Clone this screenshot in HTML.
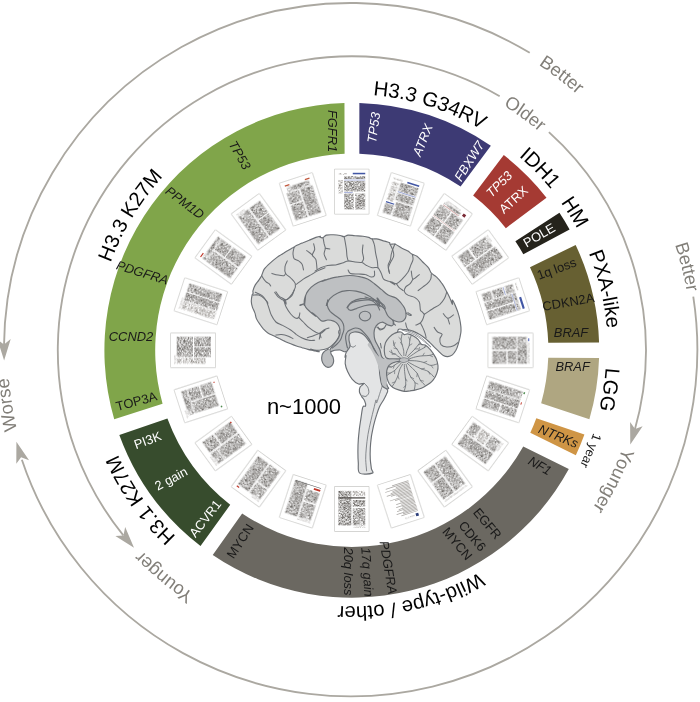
<!DOCTYPE html>
<html lang="en"><head><meta charset="utf-8"><title>Figure</title>
<style>
html,body{margin:0;padding:0;background:#fff;}
body{width:700px;height:702px;overflow:hidden;}
svg{display:block;font-family:"Liberation Sans",Arial,sans-serif;}
.g{font-size:12.9px;}
.i{font-style:italic;}
.w{fill:#fff;}
.d{fill:#1a1a1a;}
.big{font-size:20.3px;fill:#000;}
.gr{font-size:18.4px;fill:#827f79;}
</style></head><body>
<svg width="700" height="702" viewBox="0 0 700 702">
<rect width="700" height="702" fill="#fff"/>

<g id="arcs">
<path d="M3.96 346.67A346.7 346.7 0 0 1 529.73 52.83" fill="none" stroke="#aba8a1" stroke-width="1.85"/>
<path d="M4.12 360.59L-2.49 339.5L3.99 344.4L10.7 339.09Z" fill="#aba8a1"/>
<path d="M693.27 296.66A346.7 346.7 0 0 1 21.87 459.71" fill="none" stroke="#aba8a1" stroke-width="1.85"/>
<path d="M16.4 441.77L29.04 460.36L21.06 457.27L16.32 463.87Z" fill="#aba8a1"/>
<path d="M123.32 535.32A294 294 0 0 1 499.69 96.2" fill="none" stroke="#aba8a1" stroke-width="1.85"/>
<path d="M134 547.79L115.39 535.94L123.47 535.5L125.17 527.07Z" fill="#aba8a1"/>
<path d="M548.91 132.16A294 294 0 0 1 634.41 431.34" fill="none" stroke="#aba8a1" stroke-width="1.85"/>
<path d="M630.28 444.56L630.12 422.04L635.05 429.09L642.62 426.27Z" fill="#aba8a1"/>
</g>
<g id="segments">
<path d="M359.36 103.02A247.4 247.4 0 0 1 490.86 145.68L460.6 186.55A196.6 196.6 0 0 0 359.35 153.84Z" fill="#3d3a74"/>
<path d="M503.77 155.08A247.4 247.4 0 0 1 546.49 197.65L505.87 228.18A196.6 196.6 0 0 0 473.11 195.59Z" fill="#a53a33"/>
<path d="M559.44 212.87A249 249 0 0 1 569.58 229.58L523.33 254.24A196.6 196.6 0 0 0 515.36 241.22Z" fill="#25231b"/>
<path d="M575.65 244.96A247.4 247.4 0 0 1 599.08 342.53L548.26 342.75A196.6 196.6 0 0 0 529.98 267.21Z" fill="#676032"/>
<path d="M599.08 358.07A247.4 247.4 0 0 1 589.38 419.32L541.16 403.17A196.6 196.6 0 0 0 548.26 357.85Z" fill="#afa681"/>
<path d="M584.43 434.51A247.4 247.4 0 0 1 575.84 455.25L530.27 432.76A196.6 196.6 0 0 0 536.31 418.19Z" fill="#cf9545"/>
<path d="M568.81 469.11A247.4 247.4 0 0 1 212.74 554.92L242.15 513.48A196.6 196.6 0 0 0 523.25 446.51Z" fill="#6b6861"/>
<path d="M200.51 546.05A247.4 247.4 0 0 1 119.32 434.92L167.41 418.51A196.6 196.6 0 0 0 230.22 504.8Z" fill="#374c2d"/>
<path d="M114.22 419.32A247.4 247.4 0 0 1 344.46 103.01L344.6 153.83A196.6 196.6 0 0 0 162.58 403.67Z" fill="#80a54a"/>
</g>
<defs>
<pattern id="tx" width="4" height="1.4" patternUnits="userSpaceOnUse"><rect width="4" height="1.4" fill="#d2cfcc"/><rect width="4" height="0.9" fill="#85807c"/></pattern>
<pattern id="tl" width="4" height="1.4" patternUnits="userSpaceOnUse"><rect width="4" height="1.4" fill="#eeedeb"/><rect width="4" height="0.8" fill="#b9b6b3"/></pattern>
<filter id="nz" x="0" y="0" width="100%" height="100%" color-interpolation-filters="sRGB"><feTurbulence type="fractalNoise" baseFrequency="0.55 1.5" numOctaves="2" seed="3"/><feGaussianBlur stdDeviation="0.4"/><feColorMatrix type="matrix" values="0 0 0 0 0.34  0 0 0 0 0.325  0 0 0 0 0.31  1.5 0 0 0 -0.3"/><feComposite in2="SourceGraphic" operator="in"/></filter>
<filter id="nl" x="0" y="0" width="100%" height="100%" color-interpolation-filters="sRGB"><feTurbulence type="fractalNoise" baseFrequency="0.55 1.5" numOctaves="2" seed="8"/><feGaussianBlur stdDeviation="0.4"/><feColorMatrix type="matrix" values="0 0 0 0 0.5  0 0 0 0 0.48  0 0 0 0 0.46  2 0 0 0 -0.68"/><feComposite in2="SourceGraphic" operator="in"/></filter>
<filter id="sh" x="-20%" y="-20%" width="140%" height="140%"><feGaussianBlur stdDeviation="0.75"/></filter>
</defs>
<g id="thumbs">
<g transform="translate(351.8 191.5) rotate(0)"><rect x="-17.6" y="-22.8" width="35.2" height="45.8" rx="0.8" fill="#a9a9a5" opacity="0.6" filter="url(#sh)"/><rect x="-16.9" y="-22.1" width="33.8" height="44.4" fill="#fff"/><g transform="scale(0.96)"><g filter="url(#nz)"><rect x="-8" y="-16" width="22" height="3"/><rect x="-8" y="-11" width="22" height="11"/><rect x="-8" y="2.2" width="10" height="16.5"/><rect x="3.5" y="2.2" width="10.5" height="16.5"/></g><g filter="url(#nl)"><rect x="-14" y="-19" width="9" height="1.4"/><rect x="-14" y="-12" width="4.5" height="14"/></g><rect x="1" y="-19.5" width="13" height="1.6" fill="#4257a5"/><rect x="-8" y="-12.3" width="22" height="0.7" fill="#8f9bd0"/><rect x="-8" y="0.8" width="9" height="0.8" fill="#8f9bd0"/></g></g>
<g transform="translate(400.87 199.27) rotate(18)"><rect x="-17.6" y="-22.8" width="35.2" height="45.8" rx="0.8" fill="#a9a9a5" opacity="0.6" filter="url(#sh)"/><rect x="-16.9" y="-22.1" width="33.8" height="44.4" fill="#fff"/><g transform="scale(0.96)"><g filter="url(#nz)"><rect x="-5.5" y="-16.5" width="19.5" height="9"/><rect x="-5.5" y="-5.5" width="19.5" height="8"/><rect x="-14" y="8.5" width="9" height="10.5"/><rect x="-3.5" y="4" width="17.5" height="15"/></g><g filter="url(#nl)"><rect x="-14" y="-19.3" width="10" height="1.4"/><rect x="-14" y="-15" width="7" height="20"/></g><rect x="1" y="-19.5" width="13" height="1.6" fill="#4257a5"/><rect x="-5.5" y="-7" width="19.5" height="0.7" fill="#8f9bd0"/><rect x="-14" y="6.5" width="9" height="1.2" fill="#4257a5"/></g></g>
<g transform="translate(445.14 221.83) rotate(36)"><rect x="-17.6" y="-22.8" width="35.2" height="45.8" rx="0.8" fill="#a9a9a5" opacity="0.6" filter="url(#sh)"/><rect x="-16.9" y="-22.1" width="33.8" height="44.4" fill="#fff"/><g transform="scale(0.96)"><g filter="url(#nz)"><rect x="-12" y="-17" width="20" height="3"/><rect x="-14" y="-12" width="13" height="13"/><rect x="0.5" y="-12" width="13.5" height="13"/><rect x="-14" y="3" width="13" height="16"/><rect x="0.5" y="3" width="13.5" height="16"/></g><g filter="url(#nl)"><rect x="-11" y="-19.5" width="17" height="1.2"/></g><rect x="10.5" y="-18.5" width="3.2" height="3.2" fill="#7a2a35"/><rect x="-12" y="-13.5" width="20" height="0.6" fill="#c9928f"/><rect x="-14" y="1.6" width="28" height="0.5" fill="#c9928f"/></g></g>
<g transform="translate(480.27 256.96) rotate(54)"><rect x="-17.6" y="-22.8" width="35.2" height="45.8" rx="0.8" fill="#a9a9a5" opacity="0.6" filter="url(#sh)"/><rect x="-16.9" y="-22.1" width="33.8" height="44.4" fill="#fff"/><g transform="scale(0.96)"><g filter="url(#nz)"><rect x="-14" y="-17" width="13" height="21"/><rect x="0.5" y="-19" width="13.5" height="38"/><rect x="-14" y="6" width="13" height="13"/></g><g filter="url(#nl)"><rect x="-14" y="-19.5" width="8" height="1.2"/></g></g></g>
<g transform="translate(502.83 301.23) rotate(72)"><rect x="-17.6" y="-22.8" width="35.2" height="45.8" rx="0.8" fill="#a9a9a5" opacity="0.6" filter="url(#sh)"/><rect x="-16.9" y="-22.1" width="33.8" height="44.4" fill="#fff"/><g transform="scale(0.96)"><g filter="url(#nz)"><rect x="-14" y="-15" width="8.5" height="9"/><rect x="-4.5" y="-15" width="18.5" height="3"/><rect x="-4.5" y="-10.5" width="8.5" height="29.5"/><rect x="5.2" y="-10.5" width="8.8" height="29.5"/><rect x="-14" y="-3.5" width="8.5" height="11"/><rect x="-14" y="9" width="8.5" height="10"/></g><g filter="url(#nl)"><rect x="-14" y="-19" width="8" height="1.2"/></g><rect x="1.5" y="-19.5" width="12.5" height="2.2" fill="#4257a5"/><rect x="-4.5" y="-11.5" width="18.5" height="0.6" fill="#8f9bd0"/><rect x="-14" y="-5" width="8.5" height="0.7" fill="#8f9bd0"/></g></g>
<g transform="translate(510.6 350.3) rotate(90)"><rect x="-17.6" y="-22.8" width="35.2" height="45.8" rx="0.8" fill="#a9a9a5" opacity="0.6" filter="url(#sh)"/><rect x="-16.9" y="-22.1" width="33.8" height="44.4" fill="#fff"/><g transform="scale(0.96)"><g filter="url(#nz)"><rect x="-14" y="-17" width="28" height="10"/><rect x="-14" y="-6" width="13.2" height="25"/><rect x="0.8" y="-6" width="13.2" height="9"/><rect x="0.8" y="4.5" width="13.2" height="14.5"/></g><g filter="url(#nl)"><rect x="-8" y="-19.5" width="22" height="1.2"/></g><rect x="-12.5" y="-19.5" width="3" height="1.3" fill="#6c7cc4"/></g></g>
<g transform="translate(502.83 399.37) rotate(108)"><rect x="-17.6" y="-22.8" width="35.2" height="45.8" rx="0.8" fill="#a9a9a5" opacity="0.6" filter="url(#sh)"/><rect x="-16.9" y="-22.1" width="33.8" height="44.4" fill="#fff"/><g transform="scale(0.96)"><g filter="url(#nz)"><rect x="-14" y="-17.5" width="8.5" height="36.5"/><rect x="-4.5" y="-17.5" width="8.8" height="36.5"/><rect x="5.3" y="-17.5" width="8.7" height="17"/><rect x="5.3" y="1" width="8.7" height="18"/></g><rect x="-14" y="-20" width="2" height="1.5" fill="#4d8a4d"/><rect x="-3" y="-20" width="2.5" height="1" fill="#c0392b"/></g></g>
<g transform="translate(480.27 443.64) rotate(126)"><rect x="-17.6" y="-22.8" width="35.2" height="45.8" rx="0.8" fill="#a9a9a5" opacity="0.6" filter="url(#sh)"/><rect x="-16.9" y="-22.1" width="33.8" height="44.4" fill="#fff"/><g transform="scale(0.96)"><g filter="url(#nz)"><rect x="-14" y="-17" width="13.2" height="12"/><rect x="0.8" y="-17" width="13.2" height="36"/><rect x="-14" y="9" width="13.2" height="10"/></g><g filter="url(#nl)"><rect x="-14" y="-19.5" width="10" height="1.2"/><rect x="-14" y="-3.5" width="13.2" height="11"/></g></g></g>
<g transform="translate(445.14 478.77) rotate(144)"><rect x="-17.6" y="-22.8" width="35.2" height="45.8" rx="0.8" fill="#a9a9a5" opacity="0.6" filter="url(#sh)"/><rect x="-16.9" y="-22.1" width="33.8" height="44.4" fill="#fff"/><g transform="scale(0.96)"><g filter="url(#nz)"><rect x="-14" y="-16.5" width="13.2" height="35.5"/><rect x="0.8" y="-16.5" width="13.2" height="20"/><rect x="0.8" y="5" width="13.2" height="14"/></g><g filter="url(#nl)"><rect x="-14" y="-19.5" width="28" height="1.2"/></g></g></g>
<g transform="translate(400.87 501.33) rotate(162)"><rect x="-17.6" y="-22.8" width="35.2" height="45.8" rx="0.8" fill="#a9a9a5" opacity="0.6" filter="url(#sh)"/><rect x="-16.9" y="-22.1" width="33.8" height="44.4" fill="#fff"/><g transform="scale(0.96)"><g filter="url(#nl)"><rect x="-9" y="-19" width="10" height="1.2"/></g><rect x="-13.5" y="-19.8" width="3" height="3" fill="#2c3e7a"/><rect x="-14" y="-15" width="18.21" height="0.8" fill="#6f6a66" opacity="0.6"/><rect x="-14" y="-13.58" width="15.96" height="0.8" fill="#6f6a66" opacity="0.6"/><rect x="-14" y="-12.16" width="22.46" height="0.8" fill="#6f6a66" opacity="0.6"/><rect x="-14" y="-10.74" width="14.94" height="0.8" fill="#6f6a66" opacity="0.6"/><rect x="-14" y="-9.32" width="20.97" height="0.8" fill="#6f6a66" opacity="0.6"/><rect x="-14" y="-7.9" width="18.75" height="0.8" fill="#6f6a66" opacity="0.6"/><rect x="-14" y="-6.48" width="14.75" height="0.8" fill="#6f6a66" opacity="0.6"/><rect x="-14" y="-5.06" width="20.6" height="0.8" fill="#6f6a66" opacity="0.6"/><rect x="-14" y="-3.64" width="14.49" height="0.8" fill="#6f6a66" opacity="0.6"/><rect x="-14" y="-2.22" width="19.64" height="0.8" fill="#6f6a66" opacity="0.6"/><rect x="-14" y="-0.8" width="14.91" height="0.8" fill="#6f6a66" opacity="0.6"/><rect x="-14" y="0.62" width="15.18" height="0.8" fill="#6f6a66" opacity="0.6"/><rect x="-14" y="2.04" width="19.52" height="0.8" fill="#6f6a66" opacity="0.6"/><rect x="-14" y="3.46" width="24.75" height="0.8" fill="#6f6a66" opacity="0.6"/><rect x="-14" y="4.88" width="15.61" height="0.8" fill="#6f6a66" opacity="0.6"/><rect x="-14" y="6.3" width="16.9" height="0.8" fill="#6f6a66" opacity="0.6"/><rect x="-14" y="7.72" width="22.16" height="0.8" fill="#6f6a66" opacity="0.6"/><rect x="-14" y="9.14" width="26.32" height="0.8" fill="#6f6a66" opacity="0.6"/><rect x="-14" y="10.56" width="21.5" height="0.8" fill="#6f6a66" opacity="0.6"/><rect x="-14" y="11.98" width="19.16" height="0.8" fill="#6f6a66" opacity="0.6"/><rect x="-14" y="13.4" width="26.69" height="0.8" fill="#6f6a66" opacity="0.6"/><rect x="-14" y="14.82" width="14.61" height="0.8" fill="#6f6a66" opacity="0.6"/><rect x="-14" y="16.24" width="25.16" height="0.8" fill="#6f6a66" opacity="0.6"/><rect x="-14" y="17.66" width="17.76" height="0.8" fill="#6f6a66" opacity="0.6"/></g></g>
<g transform="translate(351.8 509.1) rotate(180)"><rect x="-17.6" y="-22.8" width="35.2" height="45.8" rx="0.8" fill="#a9a9a5" opacity="0.6" filter="url(#sh)"/><rect x="-16.9" y="-22.1" width="33.8" height="44.4" fill="#fff"/><g transform="scale(0.96)"><g filter="url(#nz)"><rect x="-14" y="-17" width="13" height="18"/><rect x="0.5" y="-17" width="13.5" height="36"/><rect x="-14" y="2.5" width="13" height="7"/></g><g filter="url(#nl)"><rect x="-14" y="-19.5" width="12" height="1.2"/><rect x="-14" y="13.5" width="13" height="5.5"/></g><rect x="-14" y="11" width="28" height="1.3" fill="#4a4643"/></g></g>
<g transform="translate(302.73 501.33) rotate(198)"><rect x="-17.6" y="-22.8" width="35.2" height="45.8" rx="0.8" fill="#a9a9a5" opacity="0.6" filter="url(#sh)"/><rect x="-16.9" y="-22.1" width="33.8" height="44.4" fill="#fff"/><g transform="scale(0.96)"><g filter="url(#nz)"><rect x="-14" y="-17" width="13.2" height="17"/><rect x="0.8" y="-17" width="13.2" height="36"/><rect x="-14" y="1.5" width="13.2" height="12"/></g><g filter="url(#nl)"><rect x="-14" y="-19.5" width="14" height="1.2"/></g><rect x="-14" y="15" width="7" height="2" fill="#c0392b"/><rect x="-14" y="18.3" width="28" height="0.6" fill="#555"/></g></g>
<g transform="translate(258.46 478.77) rotate(216)"><rect x="-17.6" y="-22.8" width="35.2" height="45.8" rx="0.8" fill="#a9a9a5" opacity="0.6" filter="url(#sh)"/><rect x="-16.9" y="-22.1" width="33.8" height="44.4" fill="#fff"/><g transform="scale(0.96)"><g filter="url(#nz)"><rect x="-14" y="-17" width="13.2" height="13"/><rect x="0.8" y="-17" width="13.2" height="36"/><rect x="-14" y="-2.5" width="13.2" height="21.5"/></g><g filter="url(#nl)"><rect x="-14" y="-19.5" width="9" height="1.2"/></g><rect x="11" y="-19.8" width="3" height="1.3" fill="#c0392b"/></g></g>
<g transform="translate(223.33 443.64) rotate(234)"><rect x="-17.6" y="-22.8" width="35.2" height="45.8" rx="0.8" fill="#a9a9a5" opacity="0.6" filter="url(#sh)"/><rect x="-16.9" y="-22.1" width="33.8" height="44.4" fill="#fff"/><g transform="scale(0.96)"><g filter="url(#nz)"><rect x="-14" y="-17" width="13.2" height="8"/><rect x="-14" y="-8" width="13.2" height="27"/><rect x="0.8" y="-17" width="13.2" height="14"/><rect x="0.8" y="-1.5" width="13.2" height="20.5"/></g><g filter="url(#nl)"><rect x="-14" y="-19.5" width="11" height="1.2"/></g><rect x="12.5" y="18.5" width="1.5" height="1.5" fill="#c0392b"/></g></g>
<g transform="translate(200.77 399.37) rotate(252)"><rect x="-17.6" y="-22.8" width="35.2" height="45.8" rx="0.8" fill="#a9a9a5" opacity="0.6" filter="url(#sh)"/><rect x="-16.9" y="-22.1" width="33.8" height="44.4" fill="#fff"/><g transform="scale(0.96)"><g filter="url(#nz)"><rect x="-12" y="-17" width="26" height="6"/><rect x="-12" y="-10" width="12.2" height="26"/><rect x="1.5" y="-10" width="12.5" height="12"/><rect x="1.5" y="3.5" width="12.5" height="12.5"/></g><g filter="url(#nl)"><rect x="-14" y="-19.5" width="8" height="1.2"/></g><rect x="-14.5" y="17.5" width="1.5" height="1.5" fill="#4d8a4d"/><rect x="12" y="18" width="1.2" height="1.2" fill="#c0392b"/></g></g>
<g transform="translate(193 350.3) rotate(270)"><rect x="-17.6" y="-22.8" width="35.2" height="45.8" rx="0.8" fill="#a9a9a5" opacity="0.6" filter="url(#sh)"/><rect x="-16.9" y="-22.1" width="33.8" height="44.4" fill="#fff"/><g transform="scale(0.96)"><g filter="url(#nz)"><rect x="-7" y="-17" width="21" height="17"/><rect x="-7" y="1.2" width="10" height="17.5"/><rect x="4" y="1.2" width="10" height="17.5"/></g><g filter="url(#nl)"><rect x="-14" y="-19.5" width="9" height="1.2"/><rect x="-14" y="-17" width="6" height="30"/></g></g></g>
<g transform="translate(200.77 301.23) rotate(288)"><rect x="-17.6" y="-22.8" width="35.2" height="45.8" rx="0.8" fill="#a9a9a5" opacity="0.6" filter="url(#sh)"/><rect x="-16.9" y="-22.1" width="33.8" height="44.4" fill="#fff"/><g transform="scale(0.96)"><g filter="url(#nz)"><rect x="-4.5" y="-17" width="8.8" height="36"/><rect x="5.3" y="-17" width="8.7" height="36"/></g><g filter="url(#nl)"><rect x="-14" y="-19.5" width="12" height="1.2"/><rect x="-14" y="-17" width="8.5" height="36"/></g></g></g>
<g transform="translate(223.33 256.96) rotate(306)"><rect x="-17.6" y="-22.8" width="35.2" height="45.8" rx="0.8" fill="#a9a9a5" opacity="0.6" filter="url(#sh)"/><rect x="-16.9" y="-22.1" width="33.8" height="44.4" fill="#fff"/><g transform="scale(0.96)"><g filter="url(#nz)"><rect x="-14" y="-17" width="28" height="4"/><rect x="-14" y="-12" width="13.2" height="31"/><rect x="0.8" y="-12" width="13.2" height="13"/><rect x="0.8" y="2" width="13.2" height="17"/></g><rect x="-14" y="-19.8" width="5" height="1.2" fill="#c0392b"/></g></g>
<g transform="translate(258.46 221.83) rotate(324)"><rect x="-17.6" y="-22.8" width="35.2" height="45.8" rx="0.8" fill="#a9a9a5" opacity="0.6" filter="url(#sh)"/><rect x="-16.9" y="-22.1" width="33.8" height="44.4" fill="#fff"/><g transform="scale(0.96)"><g filter="url(#nz)"><rect x="-14" y="-17" width="13.2" height="36"/><rect x="0.8" y="-17" width="13.2" height="15"/><rect x="0.8" y="-1" width="13.2" height="20"/></g><g filter="url(#nl)"><rect x="-14" y="-19.5" width="10" height="1.2"/></g></g></g>
<g transform="translate(302.73 199.27) rotate(342)"><rect x="-17.6" y="-22.8" width="35.2" height="45.8" rx="0.8" fill="#a9a9a5" opacity="0.6" filter="url(#sh)"/><rect x="-16.9" y="-22.1" width="33.8" height="44.4" fill="#fff"/><g transform="scale(0.96)"><g filter="url(#nz)"><rect x="-12" y="-17" width="24" height="5"/><rect x="-14" y="-11" width="13.2" height="12"/><rect x="0.8" y="-11" width="13.2" height="30"/><rect x="-14" y="2" width="13.2" height="17"/></g><rect x="-13.5" y="-19.5" width="5" height="1.3" fill="#c0573b"/><rect x="8.5" y="-19.5" width="5" height="1.3" fill="#c0573b"/></g></g>
</g>
<g id="brain" stroke="#6c7075" stroke-width="1.15" stroke-linejoin="round" stroke-linecap="round" fill="none">
<path d="M252.1 295.1C252.4 293.8 253 294.3 253.1 293.5C253.3 292.8 252.6 292 253 290.6C253.4 289.1 254.3 286.6 255.3 284.9C256.2 283.1 257.7 281.7 258.7 280.3C259.7 278.9 260.8 277.3 261.3 276.3C261.9 275.3 261.6 275.6 262.1 274.3C262.7 273.1 263.1 270.7 264.4 268.9C265.8 267 268 265 270.1 263.1C272.2 261.2 274.7 259.1 277 257.4C279.3 255.7 281.6 254.3 283.9 252.9C286.1 251.4 289 249.8 290.7 248.9C292.5 247.9 293.5 247.7 294.4 247.1C295.2 246.6 294.6 246.4 295.9 245.8C297.2 245.1 300 244.1 302.1 243.1C304.3 242.2 306.7 241.2 309 240.3C311.3 239.3 314 238.1 315.9 237.4C317.8 236.8 319.8 236.4 320.4 236.3C321 236.2 319.2 236.6 319.6 236.9C320 237.1 321.6 238.1 322.8 237.8C323.9 237.5 324.7 235.6 326.4 235.1C328.2 234.6 331 234.7 333.3 234.8C335.6 234.9 338.4 235.2 340.1 235.5C341.9 235.8 342.6 236.7 343.9 236.6C345.2 236.6 346.3 235.3 348.1 235.1C350 235 352.5 235.5 355 235.7C357.5 235.9 360.7 236 363 236.3C365.3 236.6 367.2 237 368.7 237.4C370.2 237.9 370.6 238.7 371.9 238.9C373.2 239.2 374.8 238.6 376.7 238.9C378.7 239.2 381.5 240.2 383.6 240.9C385.7 241.5 388.3 242.3 389.3 242.6C390.3 242.9 389.4 242.3 389.6 242.6C389.8 242.8 389.4 243.9 390.4 244.2C391.3 244.5 393.3 243.6 395.3 244.3C397.2 245 400 247.1 402.1 248.3C404.2 249.4 406.2 250.2 407.9 251.1C409.5 252.1 410.7 253.4 412.2 254.2C413.7 255.1 415.2 255 417 256.3C418.8 257.6 420.8 260.1 422.7 262C424.6 263.9 427 265.8 428.4 267.7C429.9 269.6 430.1 271.7 431.4 273.2C432.7 274.7 434.6 275.1 436.4 276.9C438.2 278.6 440.4 281.2 442.1 283.7C443.9 286.2 445.4 289.2 446.7 291.7C448 294.2 449.2 296.5 450.1 298.6C451.1 300.7 452 304 452.4 304.3C452.8 304.5 451.9 299.6 452.4 300C453 300.4 454.8 304.4 455.9 306.9C456.9 309.3 458 312.2 458.7 314.9C459.5 317.5 460 320.2 460.4 322.9C460.8 325.5 461.1 328.4 461 330.9C460.9 333.3 460.3 335.4 459.9 337.7C459.4 340 458.8 342.5 458.1 344.6C457.5 346.7 456.8 348.6 455.9 350.3C454.9 352 453.8 353.8 452.4 354.9C451.1 355.9 449.4 356.5 447.9 356.6C446.3 356.7 444.8 356.3 443.3 355.4C441.8 354.6 440.2 352.9 438.7 351.4C437.2 350 435.7 348.4 434.1 346.9C432.6 345.3 431.1 343.7 429.6 342.3C428 340.9 426.7 339.6 425 338.3C423.3 337 421.2 335.4 419.3 334.3C417.4 333.1 415.5 332.2 413.6 331.4C411.7 330.7 409.6 330 407.9 329.7C406.1 329.4 404.9 329.4 403.3 329.5C401.6 329.5 399 327.9 398 330C397 332.1 398 338 397 342C396 346 394 351 392 354C390 357 387.3 360.3 385 360C382.7 359.7 379.5 354.7 378 352C376.5 349.3 376.8 346.7 376 344C375.2 341.3 373.5 338.7 373 336C372.5 333.3 371.8 330.7 373 328C374.2 325.3 378 322.5 380 320C382 317.5 388.9 312.5 385 313C381.1 313.5 364 320.1 356.4 322.9C348.9 325.6 342.7 327.6 339.9 329.7C337 331.8 339.8 333.7 339.3 335.4C338.8 337.1 338 338.6 337 340C336 341.4 334.7 342.9 333.6 344C332.4 345.1 331.1 346.2 330.1 346.9C329.2 347.6 329.2 347.8 327.9 348.2C326.5 348.7 324 349.4 322.1 349.7C320.2 350.1 318.3 350.4 316.4 350.3C314.5 350.2 310.2 348.9 310.7 349.1C311.2 349.4 318.8 351.5 319.3 351.7C319.8 352 315.5 351 313.6 350.6C311.7 350.2 309.8 349.9 307.9 349.4C306 349 304 348.3 302.1 347.7C300.2 347.1 298.3 346.7 296.4 346C294.5 345.3 292.6 344.5 290.7 343.7C288.8 343 286.9 342.3 285 341.4C283.1 340.6 281.2 339.5 279.3 338.6C277.4 337.6 275.5 336.7 273.6 335.7C271.7 334.8 269.6 334 267.9 332.9C266.1 331.7 264.6 330.3 263.3 328.9C262 327.4 261 326 259.9 324.3C258.7 322.6 257.2 320.5 256.4 318.6C255.6 316.7 255.6 314.8 254.9 312.9C254.3 311 253 309 252.4 307.1C251.8 305.2 251.3 303.4 251.3 301.4C251.2 299.4 251.8 296.5 252.1 295.1Z" fill="#dadbda"/>
<path d="M305.6 295.7C305.6 296.4 304.6 304.8 304.4 305.4C304.2 306.1 304 301.8 304.4 299.7C304.8 297.6 305.6 295 306.7 292.9C307.9 290.8 309.4 288.9 311.3 287.1C313.2 285.4 315.9 283.8 318.1 282.6C320.4 281.3 324.4 279.9 325 279.7C325.6 279.5 321 281.6 321.9 281.4C322.7 281.2 327.2 279.3 329.9 278.6C332.5 277.8 335.2 277.3 337.9 276.9C340.5 276.4 343.2 275.9 345.9 275.7C348.5 275.5 351.4 275.5 353.9 275.7C356.3 275.9 358.4 276.3 360.7 276.9C363 277.4 365.3 278 367.6 279.1C369.9 280.3 372.1 282 374.4 283.7C376.7 285.4 379 287.5 381.3 289.4C383.6 291.3 385.7 293.7 388.1 295.1C390.6 296.6 393.9 296.7 396 298C398.1 299.3 399.6 301.3 401 303C402.4 304.7 403.7 306.3 404.5 308C405.3 309.7 405.8 311.3 406 313C406.2 314.7 406 316.7 405.5 318C405 319.3 404.1 320.3 403 321C401.9 321.7 400.3 322 399 322C397.7 322 396.1 321.4 395 321C393.9 320.6 392.7 319.5 392.5 319.8C392.3 320.1 393.9 322 393.8 323C393.7 324 393 325.5 392 325.8C391 326.1 389.2 325.4 388 325C386.8 324.6 386 323.7 385 323.2C384 322.7 383.2 322.1 382 322.2C380.8 322.3 379.2 323 378 324C376.8 325 375.7 326.5 375 328C374.3 329.5 374 331 374 333C374 335 374.3 337.8 375 340C375.7 342.2 377.2 344.3 378 346C378.8 347.7 379.3 348.1 380 350C380.7 351.9 380.7 355.2 382.1 357.3C383.5 359.4 387.7 360.4 388.4 362.8C389.2 365.1 387 368.7 386.5 371.4C386.1 374.2 385.5 376.9 385.6 379.3C385.7 381.6 386.7 384 387.2 385.6C387.6 387.1 389.3 388.5 388.4 388.7C387.6 389 384 389.5 382.1 387.1C380.3 384.8 378.7 378.2 377.4 374.6C376.1 370.9 375.6 368.3 374.3 365.1C373 362 371.6 358.4 369.6 355.7C367.5 353 364.9 350 362.1 349.1C359.4 348.2 355.4 349.9 353 350.3C350.6 350.7 348.9 351.2 347.5 351.4C346.1 351.7 345.4 351.8 344.4 351.7C343.4 351.5 342.4 350.8 341.6 350.5C340.7 350.2 340.4 349.9 339.3 349.8C338.1 349.8 336.1 350 334.7 350.3C333.3 350.6 331.6 351.4 330.7 351.4C329.9 351.4 329.1 351.4 329.6 350.3C330 349.1 332.2 346.4 333.6 344.6C334.9 342.8 336.6 341 337.6 339.4C338.6 337.9 339.1 337 339.5 335.4C339.9 333.8 340.2 331.5 340 329.7C339.7 327.9 339.2 326 338.1 324.6C337.1 323.1 335.3 321.9 333.6 321.1C331.9 320.4 329.8 320 327.9 320C326 320 323.9 321.6 322.1 321.1C320.4 320.7 319.3 318.6 317.6 317.1C315.9 315.7 312.1 312.7 311.9 312.6C311.6 312.4 316.1 316.4 315.9 316.3C315.6 316.1 311.9 313.2 310.1 311.7C308.4 310.2 306.5 308.9 305.6 307.1C304.6 305.4 304.4 303.3 304.4 301.4C304.4 299.5 305.6 295 305.6 295.7Z" fill="#bec0c2"/>
<path d="M349.6 334.3C350.4 333 352.4 332.3 354.1 332C355.9 331.7 358.1 332 359.9 332.6C361.6 333.1 362.9 334 364.4 335.4C366 336.9 367.5 339 369 341.1C370.5 343.2 372 345.5 373.6 348C375.1 350.5 378.3 356 378.1 356C378 356 373 347.9 372.7 347.9C372.5 347.8 375.6 352.8 376.6 355.7C377.7 358.6 378.5 362 379 365.1C379.5 368.3 379.3 371.2 379.8 374.6C380.3 378 380.8 383 382.1 385.6C383.5 388.1 387 388.4 387.6 390C388.3 391.5 386.7 393.4 386.1 395C385.4 396.6 384.8 397.7 383.7 399.7C382.6 401.7 380.6 404.3 379.4 406.9C378.2 409.4 377.5 411.8 376.6 414.9C375.6 417.9 374.6 421.5 373.7 425.1C372.9 428.8 372 432.8 371.4 436.6C370.9 440.4 370.5 444.2 370.3 448C370.1 451.8 370.1 456 370.3 459.4C370.5 462.9 371.1 466.3 371.4 468.6C371.8 470.9 374.3 472.4 372.3 473.1C370.4 473.9 362 474.9 359.7 473.1C357.3 471.4 358.6 466.5 358.3 462.9C358 459.2 357.9 455.2 357.9 451.4C357.9 447.6 358 443.8 358.3 440C358.5 436.2 359 432.4 359.4 428.6C359.9 424.8 360.6 420.8 361.1 417.1C361.7 413.5 362.1 408.7 362.9 406.9C363.6 405 365.4 407.1 365.6 406C365.9 404.9 365.2 402.1 364.5 400.5C363.9 398.9 362.6 398 361.7 396.6C360.9 395.1 359.6 393.4 359.4 391.9C359.1 390.3 359.4 388.5 360.1 387.1C360.9 385.8 364 384.1 363.8 383.5C363.5 383 360.5 384.7 358.6 384C356.7 383.3 354.1 381.4 352.3 379.3C350.5 377.2 348.8 374 347.6 371.4C346.4 368.8 345.5 366.2 345.2 363.6C345 361 346 356.8 346 355.7C346 354.6 345 357.7 345 357.1C345 356.6 345.6 353.9 346.1 352.6C346.7 351.2 347.8 350.3 348.4 349.1C349.1 348 350 347.2 350.1 345.7C350.2 344.2 349.1 341.9 349 340C348.9 338.1 348.7 335.6 349.6 334.3Z" fill="#e3e4e5"/>
<path d="M382.1 386.4C381.8 387.5 380.7 390.7 379.8 393.4C378.9 396.2 377.3 401.8 376.6 402.9C376 404 376.5 399 376 400C375.5 401 374.6 405.7 373.7 409.1C372.9 412.6 371.8 416.4 370.9 420.6C369.9 424.8 368.8 429.7 368 434.3C367.2 438.9 366.7 443.8 366.3 448C365.9 452.2 365.7 455.6 365.7 459.4C365.8 463.2 366.5 469 366.6 470.9" stroke-width="0.8"/>
<path d="M364.1 383.2C364.7 383.9 366.9 385.6 367.7 387.1C368.5 388.7 369 391.1 368.8 392.6C368.5 394.2 367.2 395.7 366.1 396.3C365.1 396.8 363.1 395.9 362.5 395.8" stroke-width="0.9"/>
<path d="M350.1 345.7C350.6 345.9 352.1 347.1 353 347.1C353.9 347.1 355.1 345.9 355.5 345.7" stroke-width="0.9"/>
<path d="M378.1 357.1C377.4 355.6 375.1 351 373.6 348C372 345 370.5 341.3 369 338.9C367.5 336.4 366 334.8 364.4 333.1C362.9 331.5 361.4 330 359.9 329.1C358.3 328.3 356.8 327.9 355.3 328C353.8 328.1 352 329 350.7 329.7C349.4 330.4 348.1 330.9 347.3 332C346.4 333.1 345.7 334.7 345.6 336.6C345.4 338.5 346 341.5 346.4 343.4C346.7 345.3 347.3 347.2 347.5 348"/>
<path d="M328.4 348.9C327.8 349.3 325.5 350.4 324.4 351.4C323.4 352.4 322.6 353.3 322.1 354.9C321.7 356.4 321.6 358.9 321.9 360.6C322.3 362.3 323.2 364 324.2 365.1C325.2 366.3 326.6 367.3 327.9 367.4C329.1 367.5 330.9 366.7 331.9 365.7C332.8 364.8 333.4 363.1 333.6 361.7C333.8 360.3 333.4 358.4 333 357.1C332.6 355.8 331.4 354.9 331.1 353.9C330.7 353 330.8 351.8 330.7 351.4" fill="#bec0c2"/>
<path d="M327.9 300C327.8 301 326.9 303.8 327.3 305.7C327.7 307.6 328.7 309.7 330.1 311.4C331.6 313.1 334.1 314.7 335.9 316C337.6 317.3 339.2 318.1 340.4 319.4C341.7 320.8 342.7 322.3 343.3 324C343.9 325.7 344 327.8 343.9 329.7C343.7 331.6 342.7 333.7 342.1 335.4C341.6 337.1 341.3 338.6 340.4 340C339.6 341.4 338.3 342.7 337 344C335.7 345.3 333.2 347.3 332.4 348"/>
<path d="M370 342.9C370.9 343.4 371.7 346.7 372.9 348.6C374 350.5 375.4 352.7 376.9 354.3C378.3 355.9 378.8 357.4 381.4 358.3C384.1 359.1 389.2 359.4 392.9 359.4C396.5 359.4 400.7 358.2 403.1 358.3C405.6 358.4 407.7 359.6 407.7 360.2C407.7 360.9 405.6 361.8 403.1 362.3C400.7 362.7 395.3 362.3 392.9 362.9C390.4 363.4 389.4 363.9 388.3 365.7C387.2 367.5 386.4 371 386.2 373.7C386 376.4 387.3 379.6 387.1 381.7C387 383.8 386.3 385.9 385.4 386.3C384.6 386.7 382.8 385.5 382 384C381.2 382.5 381.3 379.6 380.9 377.1C380.4 374.7 380 372.2 379.1 369.1C378.3 366.1 377 361.9 375.7 358.9C374.5 355.8 373 353.1 371.7 350.9C370.4 348.6 368 346.5 367.7 345.1C367.4 343.8 369.1 342.3 370 342.9Z" fill="#bec0c2" stroke="none"/>
<path d="M386 357.7C385 356.4 384.4 353.3 384.3 350.9C384.2 348.4 384.6 345.1 385.4 342.9C386.3 340.6 387.8 338.8 389.4 337.1C391 335.5 393.2 334 395.1 333.1C397 332.3 399.3 331.8 400.9 332C402.4 332.2 403.1 334.3 404.3 334.6C405.4 335 406.2 333.7 407.7 333.9C409.2 334.2 411.7 335.1 413.4 336C415.1 336.9 416.7 338.1 418 339.4C419.3 340.8 420.2 343.3 421.4 344.2C422.6 345.2 423.8 344.4 425.1 345.1C426.4 345.9 428.1 347.2 429.4 348.6C430.7 349.9 431.7 351.4 432.9 353.1C434 354.9 435.4 356.8 436.3 358.9C437.1 361 437.8 363.6 438 365.7C438.2 367.8 437.9 369.5 437.4 371.4C437 373.3 436.1 375.4 435.1 377.1C434.2 378.9 433 380.4 431.7 381.7C430.4 383 428.9 384 427.1 385.1C425.4 386.2 423.3 387.5 421.4 388.3C419.5 389.1 417.6 389.5 415.7 389.9C413.8 390.4 411.9 390.6 410 390.9C408.1 391.1 406.2 391.6 404.3 391.4C402.4 391.3 400.5 390.6 398.6 389.9C396.7 389.3 394.4 388.4 392.9 387.4C391.3 386.4 390.4 385.5 389.4 384C388.5 382.5 387.6 380.2 387.1 378.3C386.7 376.4 386.4 374.5 386.6 372.6C386.7 370.7 387.3 368.3 388.1 366.9C388.8 365.4 389.8 364.5 391.1 363.7C392.5 362.8 394.4 362.3 396.3 361.8C398.2 361.4 401.5 361.4 402.6 360.9C403.6 360.5 403.6 359.4 402.6 359.1C401.5 358.7 398.3 358.9 396.3 358.9C394.3 358.8 392.3 359 390.6 358.9C388.9 358.7 387 359 386 357.7Z" fill="#d8d9d8"/>
<path d="M399.9 358.9C400.7 358.2 402.7 357.6 404.3 357.7C405.9 357.9 409.4 359 409.4 359.8C409.4 360.6 405.9 362.2 404.3 362.5C402.7 362.8 400.7 362 399.9 361.4C399.2 360.8 399.2 359.5 399.9 358.9Z" fill="#bec0c2" stroke-width="0.7"/>
<g stroke-width="0.85" clip-path="url(#cerclip)">
<clipPath id="cerclip"><path d="M386 357.7C385 356.4 384.4 353.3 384.3 350.9C384.2 348.4 384.6 345.1 385.4 342.9C386.3 340.6 387.8 338.8 389.4 337.1C391 335.5 393.2 334 395.1 333.1C397 332.3 399.3 331.8 400.9 332C402.4 332.2 403.1 334.3 404.3 334.6C405.4 335 406.2 333.7 407.7 333.9C409.2 334.2 411.7 335.1 413.4 336C415.1 336.9 416.7 338.1 418 339.4C419.3 340.8 420.2 343.3 421.4 344.2C422.6 345.2 423.8 344.4 425.1 345.1C426.4 345.9 428.1 347.2 429.4 348.6C430.7 349.9 431.7 351.4 432.9 353.1C434 354.9 435.4 356.8 436.3 358.9C437.1 361 437.8 363.6 438 365.7C438.2 367.8 437.9 369.5 437.4 371.4C437 373.3 436.1 375.4 435.1 377.1C434.2 378.9 433 380.4 431.7 381.7C430.4 383 428.9 384 427.1 385.1C425.4 386.2 423.3 387.5 421.4 388.3C419.5 389.1 417.6 389.5 415.7 389.9C413.8 390.4 411.9 390.6 410 390.9C408.1 391.1 406.2 391.6 404.3 391.4C402.4 391.3 400.5 390.6 398.6 389.9C396.7 389.3 394.4 388.4 392.9 387.4C391.3 386.4 390.4 385.5 389.4 384C388.5 382.5 387.6 380.2 387.1 378.3C386.7 376.4 386.4 374.5 386.6 372.6C386.7 370.7 387.3 368.3 388.1 366.9C388.8 365.4 389.8 364.5 391.1 363.7C392.5 362.8 394.4 362.3 396.3 361.8C398.2 361.4 401.5 361.4 402.6 360.9C403.6 360.5 403.6 359.4 402.6 359.1C401.5 358.7 398.3 358.9 396.3 358.9C394.3 358.8 392.3 359 390.6 358.9C388.9 358.7 387 359 386 357.7Z"/></clipPath>
<path d="M400.4 357.8C399.9 357.5 398.6 356.7 397.7 356.1C396.9 355.5 396.2 354.6 395.3 354.1C394.4 353.6 393.2 353.6 392.2 353.1C391.3 352.7 390 351.8 389.6 351.5"/>
<path d="M395.3 354.1L392.1 354.3" stroke-width="0.7"/>
<path d="M392.2 353.1L391.3 350.1" stroke-width="0.7"/>
<path d="M401.9 356.2C401.4 355.6 400 354 399.2 352.8C398.3 351.5 397.8 350.2 397 349C396.1 347.8 394.7 347 394.1 345.6C393.5 344.3 393.6 341.6 393.4 340.9"/>
<path d="M397 349L393.9 348.1" stroke-width="0.7"/>
<path d="M394.1 345.6L395.1 342.6" stroke-width="0.7"/>
<path d="M403.9 355.5C403.8 354.6 403.9 351.9 403.6 350.1C403.3 348.4 402.6 346.6 402.2 344.9C401.8 343.1 401.1 341.4 401.1 339.6C401.1 337.8 402 335 402.1 334.1"/>
<path d="M402.2 344.9L400.4 342.3" stroke-width="0.7"/>
<path d="M401.1 339.6L398.8 337.4" stroke-width="0.7"/>
<path d="M405.7 355.7C405.9 354.9 406.5 352.2 407.1 350.5C407.7 348.8 408.7 347.3 409.2 345.6C409.6 343.8 409.5 341.9 409.8 340.1C410.2 338.4 411.1 335.8 411.4 335"/>
<path d="M409.2 345.6L411.9 343.9" stroke-width="0.7"/>
<path d="M409.8 340.1L408.7 337.1" stroke-width="0.7"/>
<path d="M407.2 356.6C407.8 355.9 409.9 354.1 411.1 352.9C412.4 351.6 413.7 350.4 414.9 349C416.1 347.7 417.2 346.3 418.3 344.8C419.4 343.4 421 341.3 421.6 340.6"/>
<path d="M414.9 349L418.1 348.8" stroke-width="0.7"/>
<path d="M418.3 344.8L421.3 343.8" stroke-width="0.7"/>
<path d="M408.2 357.8C409.1 357.1 411.6 355.3 413.4 354.1C415.2 352.9 416.9 351.6 418.7 350.6C420.6 349.5 422.6 348.8 424.4 347.6C426.2 346.4 428.5 344.1 429.3 343.5"/>
<path d="M418.7 350.6L419.5 347.5" stroke-width="0.7"/>
<path d="M424.4 347.6L425.8 344.7" stroke-width="0.7"/>
<path d="M408.7 359.1C409.8 358.7 413.2 357.4 415.5 356.9C417.8 356.3 420.2 356 422.6 355.8C424.9 355.5 427.4 355.9 429.7 355.4C432.1 354.9 435.4 353.2 436.5 352.8"/>
<path d="M422.6 355.8L424.3 353.1" stroke-width="0.7"/>
<path d="M429.7 355.4L432.6 356.7" stroke-width="0.7"/>
<path d="M408.7 360.6C410 360.7 413.9 360.6 416.4 360.9C418.9 361.2 421.4 361.7 423.9 362.5C426.3 363.3 428.6 365.3 431.1 365.4C433.7 365.5 437.8 363.5 439.1 363.1"/>
<path d="M423.9 362.5L426.8 361.3" stroke-width="0.7"/>
<path d="M431.1 365.4L433 368" stroke-width="0.7"/>
<path d="M408.3 362.1C409.3 362.7 412.5 364.5 414.7 365.7C416.9 366.8 419.1 367.9 421.3 368.9C423.6 369.9 426.2 370.1 428.3 371.5C430.4 372.8 432.9 376 433.8 376.9"/>
<path d="M421.3 368.9L424.5 368.3" stroke-width="0.7"/>
<path d="M428.3 371.5L429.9 374.3" stroke-width="0.7"/>
<path d="M407.3 363.3C408.1 364.2 410.7 366.6 412.4 368.3C414.1 370 416 371.5 417.3 373.5C418.6 375.5 419 378.3 420.3 380.3C421.6 382.3 424.5 384.6 425.3 385.4"/>
<path d="M417.3 373.5L416.8 376.7" stroke-width="0.7"/>
<path d="M420.3 380.3L423.4 381.1" stroke-width="0.7"/>
<path d="M406 364.2C406.3 365.3 407.2 368.6 408 370.7C408.8 372.9 409.6 375.1 410.8 377.1C411.9 379.1 414.4 380.5 415 382.7C415.6 385 414.3 389.1 414.2 390.4"/>
<path d="M410.8 377.1L413.6 378.6" stroke-width="0.7"/>
<path d="M415 382.7L417.9 384" stroke-width="0.7"/>
<path d="M404.3 364.5C404.3 365.6 404.4 369.1 404.6 371.4C404.8 373.7 405.2 375.9 405.4 378.2C405.6 380.5 406 382.8 405.7 385.1C405.5 387.4 404.2 390.8 403.9 392"/>
<path d="M405.4 378.2L407 381" stroke-width="0.7"/>
<path d="M405.7 385.1L403.8 387.6" stroke-width="0.7"/>
<path d="M402.6 364.2C402.1 365.1 400.4 367.8 399.6 369.8C398.8 371.8 398.6 374 397.9 376C397.1 378 396.2 379.9 395.2 381.8C394.2 383.7 392.2 386.3 391.6 387.2"/>
<path d="M397.9 376L399 379" stroke-width="0.7"/>
<path d="M395.2 381.8L392.2 382.9" stroke-width="0.7"/>
<path d="M401.1 363.2C400.6 363.8 399 365.6 397.9 366.9C396.8 368.1 395.9 369.5 394.7 370.5C393.4 371.5 391.7 372.2 390.3 373.1C388.9 374 387 375.4 386.3 375.9"/>
<path d="M394.7 370.5L394.6 373.7" stroke-width="0.7"/>
<path d="M390.3 373.1L387.1 372.9" stroke-width="0.7"/>
<path d="M400.2 361.9C399.7 362.2 398.2 362.8 397.2 363.4C396.2 364 395.3 364.7 394.4 365.3C393.4 365.9 392.6 366.8 391.5 367C390.3 367.2 388.2 366.6 387.5 366.5"/>
<path d="M394.4 365.3L393.3 368.3" stroke-width="0.7"/>
<path d="M391.5 367L388.3 366.5" stroke-width="0.7"/>
</g>
<path d="M402.1 329.9C402.1 329.7 405.8 330.1 407.9 330.6C410 331.2 412.4 332.2 414.7 333.4C417 334.6 419.5 336.3 421.6 337.9C423.7 339.6 425.7 341.6 427.3 343.1C428.8 344.6 430.9 346.9 430.9 347.1C431 347.3 429.1 345.6 427.5 344.3C426 343.1 423.7 341 421.6 339.4C419.4 337.8 417 336.1 414.7 334.9C412.4 333.6 410 332.8 407.9 332C405.8 331.2 402.1 330.2 402.1 329.9Z" fill="#fff" stroke-width="0.7"/>
<path d="M326.4 305.4C327 304.3 328 300.7 329.9 298.6C331.8 296.5 335 294.2 337.9 292.9C340.7 291.5 344 290.9 347 290.6C350 290.3 353.1 290.6 356.1 291.1C359.2 291.7 362.2 292.6 365.3 294C368.3 295.4 372 297.6 374.4 299.7C376.9 301.8 379.7 306.9 380.1 306.6C380.6 306.3 376.9 298.6 377 298C377.1 297.4 379.7 301 381 303C382.3 305 383.8 307.8 385 310C386.2 312.2 386.8 314.4 388 316C389.2 317.6 391.5 319 392.2 319.6"/>
<path d="M326.4 305.4C326.7 304.5 327.6 300.9 327.9 300"/>
<path d="M347 307.7C347.8 306.8 349.3 303.5 351.6 302C353.9 300.5 357.7 299 360.7 298.6C363.8 298.2 367.2 298.8 369.9 299.7C372.5 300.7 375.1 302.6 376.7 304.3C378.3 306 379.1 309 379.6 310"/>
<path d="M365 297C365.8 297.2 368.3 298 370 298.5C371.7 299 373.3 299.2 375 300C376.7 300.8 379.2 302.9 380 303.5"/>
<path d="M348.4 305.7C347.6 306.8 347.5 307.8 347.9 308.6C348.2 309.3 349.3 310.3 350.7 310.3C352.1 310.3 354.1 309.3 356.4 308.6C358.7 307.8 361.6 306.4 364.4 305.7C367.3 305 370.9 304.6 373.6 304.6C376.2 304.6 378.5 305 380.4 305.7C382.3 306.4 384.4 309 385 308.9C385.6 308.8 385 306.4 383.9 305.1C382.7 303.9 380.6 302.5 378.1 301.6C375.7 300.7 372 300.2 369 300C366 299.8 362.5 300.2 359.9 300.6C357.2 301 354.9 301.4 353 302.3C351.1 303.1 349.3 304.7 348.4 305.7Z"/>
<path d="M378 327C378.3 327.5 379 329.8 380 330C381 330.2 383 328.8 384 328C385 327.2 385.7 325.5 386 325"/>
<path d="M393 323C393.4 323.4 395.1 324.8 395.5 325.2"/>
<path d="M406 313C406.5 313.3 408.2 314.6 409 315C409.8 315.4 410.7 315.4 411 315.5"/>
<ellipse cx="365" cy="316" rx="5.7" ry="4.8"/>
<path d="M294.1 247.1C294 248.1 293 251 293 252.9C293 254.8 293.2 257.2 294.1 258.6C295.1 259.9 297.4 259.9 298.7 260.9C300 261.8 301.3 262.8 302.1 264.3C302.9 265.8 303.3 269 303.5 270" stroke-width="1.05"/>
<path d="M313.6 243.7C313.8 244.7 314.9 247.5 314.7 249.4C314.5 251.3 312.2 253.4 312.4 255.1C312.6 256.9 315.1 257.4 315.9 259.7C316.6 262 316.8 267.3 317 268.9" stroke-width="1.05"/>
<path d="M312.4 255.1C311.9 254.7 310 253 309 252.3C308 251.5 307.1 250.9 306.7 250.6" stroke-width="1.05"/>
<path d="M287.3 260.9C286.9 261.8 285.3 264.5 285 266.6C284.7 268.7 284.6 271.5 285.6 273.4C286.5 275.3 289.1 276.3 290.7 278C292.3 279.7 294.7 281.6 295.3 283.7C295.9 285.8 295.3 288.1 294.1 290.6C293 293 290 297 288.4 298.6C286.9 300.1 285.6 299.7 285 299.9" stroke-width="1.05"/>
<path d="M285.6 273.4C285.3 273.8 285.1 275.4 283.9 275.7C282.6 276 280.1 275.5 278.1 275.1C276.1 274.8 272.9 273.7 271.9 273.4" stroke-width="1.05"/>
<path d="M275.9 291.7C276.4 292.5 277.8 294.9 279.3 296.3C280.8 297.7 283.9 298.6 285 299.9C286.1 301.3 286.3 304.2 286.1 304.3C286 304.3 284.2 301 283.9 300.3" stroke-width="1.05"/>
<path d="M261.6 275.7C262.2 276.7 264.3 280.1 265.6 281.4C266.8 282.8 268.1 283 269 283.7C269.9 284.5 270.4 285.6 270.7 286" stroke-width="1.05"/>
<path d="M253 295.1C254 295.1 256.8 294.6 258.7 295.1C260.6 295.7 262.9 297.2 264.4 298.6C266 299.9 267.5 302.7 267.9 303.1C268.2 303.6 266.5 300.6 266.7 301.4C266.9 302.3 268.2 306 269 308.3C269.8 310.6 270.1 312.9 271.3 315.1C272.4 317.4 274 320.3 275.9 322C277.8 323.7 280.2 324.1 282.7 325.4C285.2 326.8 288.4 328.5 290.7 330C293 331.5 294.5 333.2 296.4 334.6C298.3 335.9 300 337 302.1 338C304.2 339 306.9 339.9 309 340.3C311.1 340.7 313.8 340.3 314.7 340.3" stroke-width="1.05"/>
<path d="M325 267.7C323.9 268.2 320.4 269.4 318.1 270.6C315.9 271.7 313.8 273.1 311.3 274.6C308.8 276 305.8 277.5 303.3 279.1C300.8 280.8 297.6 283.4 296.4 284.3" stroke-width="1.05"/>
<path d="M299.9 305.4C300.4 305.2 302.7 304.5 303.3 304.3" stroke-width="1.05"/>
<path d="M323 237.4C323.2 238.5 323.8 241.9 324.1 243.7C324.5 245.5 325.3 246.6 325.3 248.3C325.3 250 324 252.1 324.1 254C324.3 255.9 326 258.8 326.4 259.7" stroke-width="1.05"/>
<path d="M325.3 248.3C326 248.4 329.1 248.8 329.9 248.9" stroke-width="1.05"/>
<path d="M344.1 236.3C344.3 237.3 344.9 240.4 345.3 242.6C345.7 244.8 346.1 247.1 346.4 249.4C346.7 251.7 346.7 254.4 347 256.3C347.3 258.2 348 260.1 348.1 260.9" stroke-width="1.05"/>
<path d="M372.1 238.6C372.5 239.6 373.9 242.5 374.4 244.9C375 247.2 375.1 250.2 375.6 252.9C376 255.5 376.9 258.4 377.3 260.9C377.7 263.3 377.8 266.6 377.9 267.7" stroke-width="1.05"/>
<path d="M363 244.9C362.9 246 362.3 249.4 362.4 251.7C362.5 254 363.7 256.8 363.6 258.6C363.5 260.3 362.1 261.6 361.9 262.2" stroke-width="1.05"/>
<path d="M315 271.1C316 270.6 318.6 268.7 320.7 267.7C322.8 266.8 325.1 265.9 327.6 265.4C330 265 333.1 265.2 335.6 264.9C338 264.5 340.3 263.8 342.4 263.1C344.5 262.5 346 261 348.1 260.9C350.2 260.7 352.7 261.7 355 262C357.3 262.3 360 262 361.9 262.6C363.8 263.1 364.7 264.6 366.4 265.4C368.1 266.3 370.2 267.3 372.1 267.7C374 268.1 376.3 266.8 377.9 267.7C379.4 268.7 380.3 271.5 381.3 273.4C382.2 275.3 382.2 277.8 383.6 279.1C384.9 280.5 387.4 280.5 389.3 281.4C391.2 282.4 394.8 284.9 395 284.9C395.2 284.9 390.5 281.6 390.7 281.4C391 281.2 394.5 284.1 396.4 283.7C398.3 283.3 400.2 281 402.1 279.1C404 277.2 406.4 274.6 407.9 272.3C409.3 270 409.9 267.5 410.7 265.4C411.6 263.3 412.7 261.5 413 259.7C413.3 257.9 412.5 255.4 412.4 254.6" stroke-width="1.05"/>
<path d="M348.1 270C348.5 270.6 348.7 272.8 350.4 273.4C352.1 274.1 356 273.8 358.4 274C360.9 274.2 363.2 274.1 365.3 274.6C367.4 275 369.5 276.7 371 276.9C372.5 277 373.9 276.7 374.4 275.7C375 274.8 374.4 271.9 374.4 271.1" stroke-width="1.05"/>
<path d="M395 243.7C394.4 245.2 392.3 250.2 391.6 252.9C390.8 255.5 391 257.6 390.4 259.7C389.9 261.8 388.3 263.3 388.1 265.4C388 267.5 389.1 271.1 389.3 272.3" stroke-width="1.05"/>
<path d="M390.1 244.3C390.6 245.3 392.4 248.6 393 250.6C393.6 252.6 394 254.4 393.6 256.3C393.2 258.2 391.6 260.1 390.7 262C389.9 263.9 388.6 265.8 388.4 267.7C388.2 269.6 389.4 272.5 389.6 273.4" stroke-width="1.05"/>
<path d="M396.4 283.7C396.8 284.3 397.6 286 398.7 287.1C399.9 288.3 402.5 290 403.3 290.6" stroke-width="1.05"/>
<path d="M411.3 271.1C411.6 272.5 411.7 278.6 413 279.1C414.3 279.7 418.2 275.3 419.3 274.6" stroke-width="1.05"/>
<path d="M413 279.1C412.5 279.9 411.4 282.4 410.1 283.7C408.9 285 406.5 285.8 405.6 287.1C404.6 288.5 404 290.4 404.4 291.7C404.8 293 406.1 294.2 407.9 295.1C409.6 296.1 412.8 296.3 414.7 297.4C416.6 298.6 418.3 299.9 419.3 302C420.2 304.1 420 308.4 420.4 310C420.8 311.6 420.9 310.7 421.6 311.4C422.2 312.1 424 313.8 424.4 314.3" stroke-width="1.05"/>
<path d="M431.3 274C431.2 274.9 431.4 277.5 430.7 279.1C430 280.8 428.6 282.4 427.3 283.7C426 285 424.2 286 422.7 287.1C421.2 288.3 418.9 290 418.1 290.6" stroke-width="1.05"/>
<path d="M446.7 292.3C446.3 293.3 445.6 296.6 444.4 298.6C443.3 300.6 441.6 302.8 439.9 304.3C438.1 305.8 435.7 306.8 434.1 307.7C432.6 308.7 432.3 308.9 430.7 310C429.1 311.1 425.5 313.6 424.4 314.3" stroke-width="1.05"/>
<path d="M274.7 292.3C275.3 293 276.6 295.5 278.1 296.9C279.7 298.2 282.3 299.9 283.9 300.3C285.4 300.7 286 299.9 287.3 299.1C288.6 298.4 290.7 297.2 291.9 295.7C293 294.2 293.8 291 294.1 290" stroke-width="1.05"/>
<path d="M283.9 300.3C284.2 301.4 285 304.9 286.1 307.1C287.3 309.4 289.2 312.2 290.7 314C292.2 315.8 294 317.4 295.3 318C296.6 318.6 298 318.3 298.7 317.4C299.5 316.6 299.7 313.6 299.9 312.9" stroke-width="1.05"/>
<path d="M298.7 317.4C299.5 318.2 301.6 320.3 303.3 322C305 323.7 306.9 326 309 327.7C311.1 329.4 314 331.3 315.9 332.3C317.8 333.2 318.9 333.8 320.4 333.4C322 333 324.2 330.6 325 330" stroke-width="1.05"/>
<path d="M320.4 333.4C320.2 334.4 319.5 338.2 319.3 339.1" stroke-width="1.05"/>
<path d="M275.9 335.1C276.8 335 279.5 334.4 281.6 334.6C283.7 334.8 286.5 335.6 288.4 336.3C290.3 337 292.2 338.2 293 338.6" stroke-width="1.05"/>
<path d="M255.3 292.3C256.4 292.9 260.2 294.2 262.1 295.7C264 297.2 266 300.5 266.7 301.4" stroke-width="1.05"/>
<path d="M299.9 304.9C300.6 304.7 303.7 303.9 304.4 303.7" stroke-width="1.05"/>
<path d="M307.3 337.7C308.4 337.3 312 336.2 314.1 335.4C316.2 334.7 318.1 334.1 319.9 333.1C321.6 332.2 322.9 330.6 324.4 329.7C326 328.9 328.2 328.3 329 328" stroke-width="1.05"/>
<path d="M319.9 333.1C320 333.9 320.8 337 321 337.7" stroke-width="1.05"/>
<path d="M424.4 314.3C424.1 315.1 423.4 318 422.7 319.4C422 320.9 421.6 321.9 420.4 322.9C419.3 323.8 416.6 324.8 415.9 325.1" stroke-width="1.05"/>
<path d="M420.4 322.9C420.8 323.6 422 325.7 422.7 327.4C423.5 329.1 424.4 331.4 425 333.1C425.6 334.9 426 337 426.1 337.7" stroke-width="1.05"/>
<path d="M405.6 322.9C405.8 323.6 406.1 326.1 406.7 327.4C407.3 328.8 408.6 330.3 409 330.9" stroke-width="1.05"/>
<path d="M443.3 313.7C444 314.5 446.1 318.1 447.9 318.3C449.6 318.5 452.6 315.4 453.6 314.9" stroke-width="1.05"/>
<path d="M447.9 318.3C448.1 319.2 449.3 323 449.6 324" stroke-width="1.05"/>
<path d="M434.1 327.4C434.7 328.2 436.2 330.9 437.6 332C438.9 333.1 441.8 333.1 442.1 334.3C442.5 335.4 440 337.1 439.9 338.9C439.7 340.6 439.9 343.2 441 344.6C442.1 345.9 444.6 346.7 446.7 346.9C448.8 347 451.7 346.5 453.6 345.7C455.5 345 457.4 342.9 458.1 342.3" stroke-width="1.05"/>
<path d="M407.9 312.6C408.4 313 410.7 314.5 411.3 314.9" stroke-width="1.05"/>
<path d="M377 327.4C377.6 327.7 379.3 329 380.4 329.1C381.6 329.3 383.3 328.7 383.9 328.6" stroke-width="1.05"/>
<path d="M380.4 343.4C380.6 344.2 381.2 347.2 381.3 348" stroke-width="1.05"/>
</g>
<defs>
<path id="lp0" d="M102.6 411.05A256.5 256.5 0 0 1 291.05 101.1"/>
<path id="lp1" d="M233.99 123.02A256 256 0 0 1 579.08 232.49"/>
<path id="lp2" d="M355.82 94.33A256 256 0 0 1 607.77 354.32"/>
<path id="lp3" d="M410.26 101.06A256 256 0 0 1 601.04 408.76"/>
<path id="lp4" d="M485.18 131.79A256 256 0 0 1 570.31 483.68"/>
<path id="lp5" d="M556.91 199.63A254.5 254.5 0 0 1 502.47 555.41"/>
<path id="lp6" d="M569.84 484.44A256 256 0 0 1 217.66 568.34"/>
<path id="lp7" d="M308.67 602.64A256 256 0 0 1 99.46 307.17"/>
<path id="lp8" d="M588.17 253.84A255.3 255.3 0 0 1 448.26 586.67"/>
<path id="lp9" d="M306.11 12.37A341 341 0 0 1 689.73 304.61"/>
<path id="lp10" d="M307.74 65.69A288 288 0 0 1 636.41 306.24"/>
<path id="lp11" d="M526.91 58.86A340 340 0 0 1 643.24 525.41"/>
<path id="lp12" d="M624.73 258.98A287.8 287.8 0 0 1 443.12 623.23"/>
<path id="lp13" d="M379.09 639.01A290 290 0 0 1 63.09 377.59"/>
<path id="lp14" d="M149.6 628.6A344 344 0 0 1 73.5 148.1"/>
</defs>
<g id="arclabels" text-anchor="middle" opacity="0.999">
<text class="big"><textPath href="#lp0" startOffset="50%">H3.3 K27M</textPath></text>
<text class="big"><textPath href="#lp1" startOffset="50%">H3.3 G34RV</textPath></text>
<text class="big"><textPath href="#lp2" startOffset="50%">IDH1</textPath></text>
<text class="big"><textPath href="#lp3" startOffset="50%">HM</textPath></text>
<text class="big"><textPath href="#lp4" startOffset="50%">PXA-like</textPath></text>
<text class="big"><textPath href="#lp5" startOffset="50%">LGG</textPath></text>
<text class="big"><textPath href="#lp6" startOffset="50%">Wild-type / other</textPath></text>
<text class="big"><textPath href="#lp7" startOffset="50%">H3.1 K27M</textPath></text>
<text class="g d" style="font-size:12.7px"><textPath href="#lp8" startOffset="50%">1 year</textPath></text>
<text class="gr"><textPath href="#lp9" startOffset="50%">Better</textPath></text>
<text class="gr"><textPath href="#lp10" startOffset="50%">Older</textPath></text>
<text class="gr"><textPath href="#lp11" startOffset="50%">Better</textPath></text>
<text class="gr"><textPath href="#lp12" startOffset="50%">Younger</textPath></text>
<text class="gr"><textPath href="#lp13" startOffset="50%">Younger</textPath></text>
<text class="gr"><textPath href="#lp14" startOffset="50%">Worse</textPath></text>
</g>
<g id="labels" opacity="0.999">
<text class="g i d" text-anchor="middle" transform="translate(332.5 131) rotate(90)" dy="0.36em">FGFR1</text>
<text class="g i d" text-anchor="middle" transform="translate(240 155) rotate(60)" dy="0.36em">TP53</text>
<text class="g i d" text-anchor="middle" transform="translate(185 202.5) rotate(37)" dy="0.36em">PPM1D</text>
<text class="g i d" text-anchor="middle" transform="translate(142.5 272.5) rotate(17)" dy="0.36em">PDGFRA</text>
<text class="g i d" text-anchor="middle" transform="translate(131 336) rotate(0)" dy="0.36em">CCND2</text>
<text class="g d" text-anchor="middle" transform="translate(136.4 401) rotate(-15)" dy="0.36em">TOP3A</text>
<text class="g i w" text-anchor="middle" transform="translate(373.5 127.5) rotate(-82)" dy="0.36em">TP53</text>
<text class="g i w" text-anchor="middle" transform="translate(422.5 140) rotate(-68)" dy="0.36em">ATRX</text>
<text class="g i w" text-anchor="middle" transform="translate(469 161) rotate(-58)" dy="0.36em">FBXW7</text>
<text class="g i w" text-anchor="middle" transform="translate(499 184) rotate(-45)" dy="0.36em">TP53</text>
<text class="g w" text-anchor="middle" transform="translate(513.4 199.5) rotate(-42)" dy="0.36em">ATRX</text>
<text class="g w" text-anchor="middle" transform="translate(539 235) rotate(-30)" dy="0.36em">POLE</text>
<text class="g d" text-anchor="middle" transform="translate(556.6 268.5) rotate(-20)" dy="0.36em">1q loss</text>
<text class="g d" text-anchor="middle" transform="translate(568.3 301.8) rotate(-10)" dy="0.36em">CDKN2A</text>
<text class="g i d" text-anchor="middle" transform="translate(571 332.5) rotate(0)" dy="0.36em">BRAF</text>
<text class="g i d" text-anchor="middle" transform="translate(572.6 366) rotate(0)" dy="0.36em">BRAF</text>
<text class="g i d" text-anchor="middle" transform="translate(558.5 436) rotate(22)" dy="0.36em">NTRKs</text>
<text class="g i d" text-anchor="middle" transform="translate(540 465.5) rotate(30)" dy="0.36em">NF1</text>
<text class="g d" text-anchor="middle" transform="translate(487.5 523.5) rotate(50)" dy="0.36em">EGFR</text>
<text class="g d" text-anchor="middle" transform="translate(472.5 536) rotate(50)" dy="0.36em">CDK6</text>
<text class="g d" text-anchor="middle" transform="translate(457.5 543.5) rotate(50)" dy="0.36em">MYCN</text>
<text class="g i d" text-anchor="middle" transform="translate(388.5 567.5) rotate(80.5)" dy="0.36em">PDGFRA</text>
<text class="g i d" text-anchor="middle" transform="translate(367.5 572) rotate(86)" dy="0.36em">17q gain</text>
<text class="g i d" text-anchor="middle" transform="translate(349 571.5) rotate(90)" dy="0.36em">20q loss</text>
<text class="g d" text-anchor="middle" transform="translate(240 541) rotate(-57)" dy="0.36em">MYCN</text>
<text class="g w" text-anchor="middle" transform="translate(205 518.5) rotate(-52)" dy="0.36em">ACVR1</text>
<text class="g w" text-anchor="middle" transform="translate(171 478.5) rotate(-28)" dy="0.36em">2 gain</text>
<text class="g w" text-anchor="middle" transform="translate(147.5 440) rotate(-20)" dy="0.36em">PI3K</text>
<text class="big" text-anchor="middle" transform="translate(303.9 406.5) rotate(0)" dy="0.36em" style="font-size:22px">n~1000</text>
</g>
</svg></body></html>
